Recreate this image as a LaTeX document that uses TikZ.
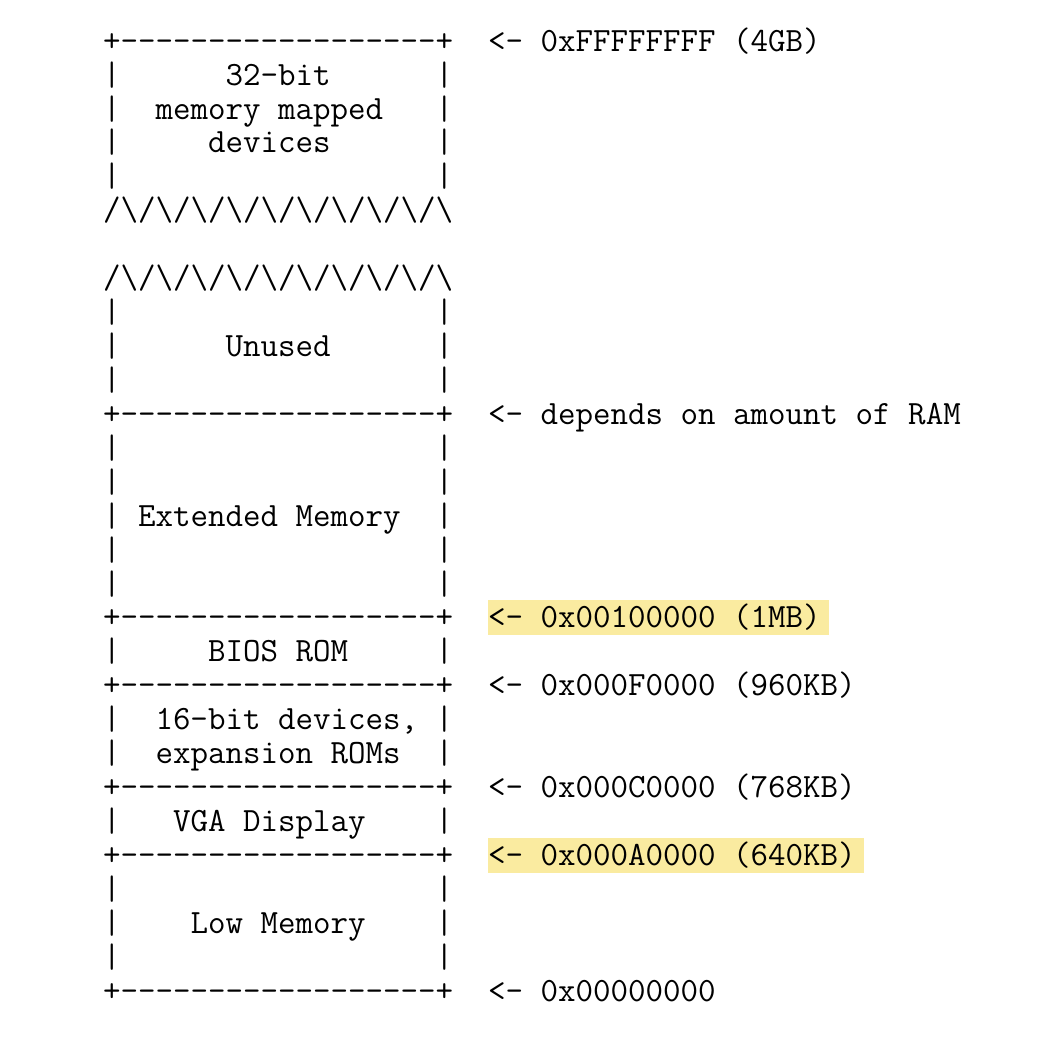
\documentclass[tikz,border=0pt]{standalone}
\usepackage{tikz}
\usetikzlibrary{
    backgrounds
}
\tikzset{
  asc/.style    = {anchor=base west, inner sep=0pt, outer sep=0pt,
                   font=\fontsize{17pt}{17pt}\selectfont\ttfamily},
  hilite/.style = {fill=marker}
}
\definecolor{marker}{RGB}{250,235,160}
\newcommand{\divrow}{+------------------+}
\newcommand{\zigrow}{/\textbackslash/\textbackslash/\textbackslash/\textbackslash/\textbackslash/\textbackslash/\textbackslash/\textbackslash/\textbackslash/\textbackslash}

\begin{document}
\begin{tikzpicture}[x=8.75pt, y=-16.965pt]
  \useasboundingbox (-5.886,-1.2084) rectangle (53.771,29.561);

  % box outlines
  \foreach \r in {0,11,17,19,22,24,28}
    \node[asc] (div\r) at (0,\r+0.3) {\divrow};
  \foreach \r in {5,7}
    \node[asc] (zig\r) at (0,\r+0.3) {\zigrow};
  \foreach \r in {1,2,3,4,8,9,10,12,13,14,15,16,18,20,21,23,25,26,27} {
    \node[asc] (wl\r) at (0,\r+0.3)  {|};
    \node[asc] (wr\r) at (19,\r+0.3) {|};
  }

  % regions
  \node[asc] (dev32)  at (7,1.3)  {32-bit};
  \node[asc] (mmap)   at (3,2.3)  {memory mapped};
  \node[asc] (devs)   at (6,3.3)  {devices};
  \node[asc] (unused) at (7,9.3)  {Unused};
  \node[asc] (ext)    at (2,14.3) {Extended Memory};
  \node[asc] (bios)   at (6,18.3) {BIOS ROM};
  \node[asc] (dev16)  at (3,20.3) {16-bit devices,};
  \node[asc] (exprom) at (3,21.3) {expansion ROMs};
  \node[asc] (vga)    at (4,23.3) {VGA Display};
  \node[asc] (low)    at (5,26.3) {Low Memory};

  % addresses
  \node[asc] (a4g)   at (22,0.3)  {<- 0xFFFFFFFF (4GB)};
  \node[asc] (aram)  at (22,11.3) {<- depends on amount of RAM};
  \node[asc] (a1m)   at (22,17.3) {<- 0x00100000 (1MB)};
  \node[asc] (a960)  at (22,19.3) {<- 0x000F0000 (960KB)};
  \node[asc] (a768)  at (22,22.3) {<- 0x000C0000 (768KB)};
  \node[asc] (a640)  at (22,24.3) {<- 0x000A0000 (640KB)};
  \node[asc] (azero) at (22,28.3) {<- 0x00000000};

  \begin{scope}[on background layer]
    \fill[hilite] ([yshift=-3.7pt]a1m.base west)
      rectangle ([xshift=4pt,yshift=13.9pt]a1m.base east);
    \fill[hilite] ([yshift=-3.7pt]a640.base west)
      rectangle ([xshift=4pt,yshift=13.9pt]a640.base east);
  \end{scope}
\end{tikzpicture}
\end{document}
